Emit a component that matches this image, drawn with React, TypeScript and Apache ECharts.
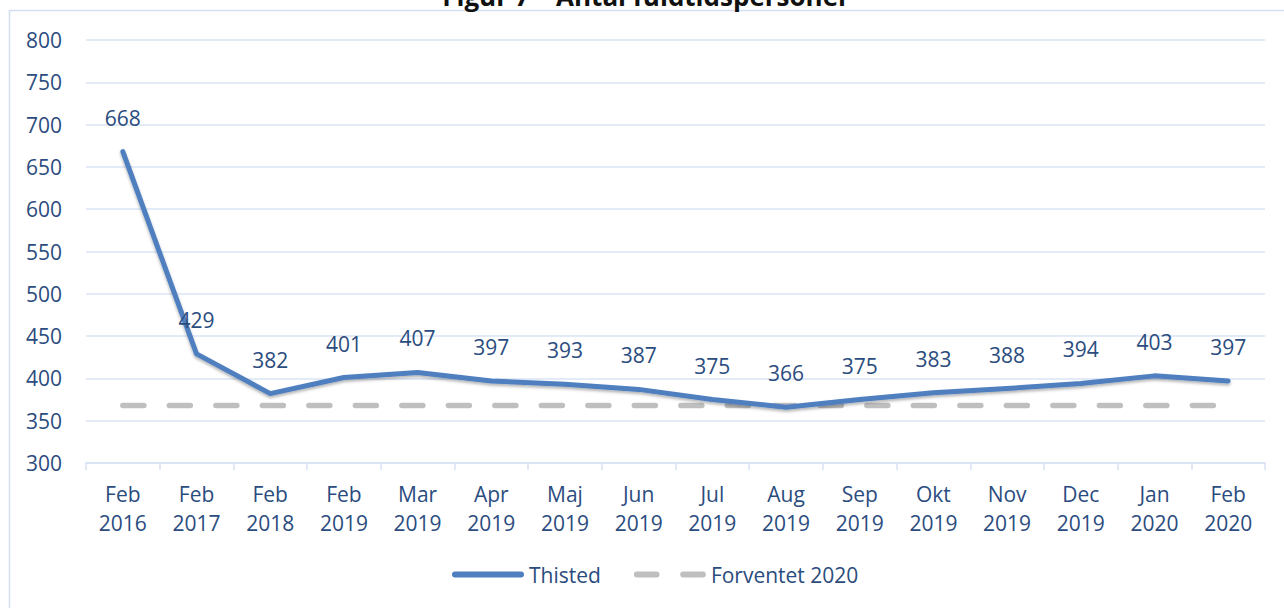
import React, { useEffect, useRef } from "react";
import * as echarts from "echarts";

const categories = [
  "Feb\n2016", "Feb\n2017", "Feb\n2018", "Feb\n2019", "Mar\n2019", "Apr\n2019",
  "Maj\n2019", "Jun\n2019", "Jul\n2019", "Aug\n2019", "Sep\n2019", "Okt\n2019",
  "Nov\n2019", "Dec\n2019", "Jan\n2020", "Feb\n2020",
];
const thisted = [668, 429, 382, 401, 407, 397, 393, 387, 375, 366, 375, 383, 388, 394, 403, 397];
const forventet = [368, 368, 368, 368, 368, 368, 368, 368, 368, 368, 368, 368, 368, 368, 368, 368];
const titleText = "Figur 7 – Antal fuldtidspersoner";

const FONT = "'Open Sans', sans-serif";
const TEXT_COLOR = "#2b4c7e";
const BLUE = "#4f7fbf";
const GREY = "#bfbfbf";

const SOLID_ICON = "path://M3,0 H69 A3,3 0 0 1 69,6 H3 A3,3 0 0 1 3,0 Z";
const DASH_ICON =
  "path://M3,0 H23 A3,3 0 0 1 23,6 H3 A3,3 0 0 1 3,0 Z M50,0 H70 A3,3 0 0 1 70,6 H50 A3,3 0 0 1 50,0 Z";

export default function App() {
  const ref = useRef<HTMLDivElement>(null);
  useEffect(() => {
    if (!ref.current) return;
    const chart = echarts.init(ref.current, null, { renderer: "svg" });
    chart.setOption({
      animation: false,
      backgroundColor: "#ffffff",
      textStyle: { fontFamily: FONT },
      graphic: [
        {
          type: "rect",
          shape: { x: 9.5, y: 10.5, width: 1300, height: 700 },
          style: { fill: "none", stroke: "#d3dff0", lineWidth: 1.5 },
          z: 0,
        },
        {
          type: "text",
          x: 646,
          y: -4,
          style: {
            text: titleText,
            fontFamily: FONT,
            fontWeight: "bold",
            fontSize: 26,
            fill: "#111111",
            align: "center",
            verticalAlign: "middle",
          },
        },
      ],
      legend: {
        left: 452,
        top: 564,
        padding: 0,
        itemWidth: 72,
        itemHeight: 6,
        itemGap: 33,
        textStyle: { fontFamily: FONT, fontSize: 21, color: TEXT_COLOR },
        data: [
          { name: "Thisted", icon: SOLID_ICON },
          { name: "Forventet 2020", icon: DASH_ICON },
        ],
      },
      grid: { left: 86, right: 19, top: 40, bottom: 145 },
      xAxis: {
        type: "category",
        data: categories,
        boundaryGap: true,
        axisLine: { lineStyle: { color: "#d6e2f2", width: 1.5 } },
        axisTick: { show: true, length: 7, interval: 0, lineStyle: { color: "#d6e2f2", width: 1.5 } },
        axisLabel: {
          interval: 0,
          margin: 16,
          fontFamily: FONT,
          fontSize: 21,
          lineHeight: 29,
          color: TEXT_COLOR,
        },
      },
      yAxis: {
        type: "value",
        min: 300,
        max: 800,
        interval: 50,
        axisLine: { show: false },
        axisTick: { show: false },
        splitLine: { lineStyle: { color: "#d9e5f5", width: 1.5 } },
        axisLabel: { margin: 24, fontFamily: FONT, fontSize: 21, color: TEXT_COLOR },
      },
      series: [
        {
          name: "Forventet 2020",
          type: "line",
          data: forventet,
          symbol: "none",
          lineStyle: {
            color: GREY,
            width: 5.5,
            type: [21, 25.5],
            cap: "round",
          },
          itemStyle: { color: GREY },
          z: 2,
        },
        {
          name: "Thisted",
          type: "line",
          data: thisted,
          symbol: "circle",
          symbolSize: 1,
          itemStyle: { color: BLUE },
          lineStyle: {
            color: BLUE,
            width: 5,
            cap: "round",
            join: "round",
            shadowBlur: 3,
            shadowColor: "rgba(0,0,0,0.3)",
            shadowOffsetY: 2,
          },
          label: {
            show: true,
            position: "top",
            distance: 23,
            fontFamily: FONT,
            fontSize: 21,
            color: TEXT_COLOR,
          },
          z: 3,
        },
      ],
    });
    return () => chart.dispose();
  }, []);
  return (
    <div
      ref={ref}
      style={{ position: "absolute", left: 0, top: 0, width: 1284, height: 608 }}
    />
  );
}
